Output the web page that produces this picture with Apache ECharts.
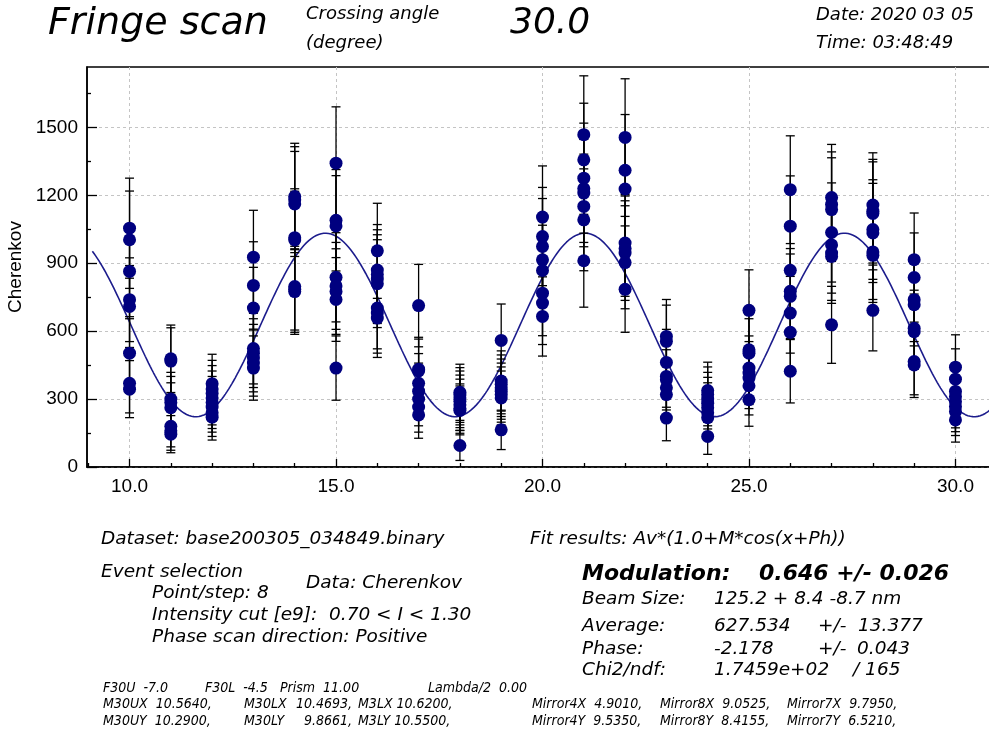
<!DOCTYPE html>
<html><head><meta charset="utf-8">
<script src="https://cdn.jsdelivr.net/npm/echarts@6/dist/echarts.min.js"></script>
<style>html,body{margin:0;padding:0;background:#fff}#c{width:989px;height:735px}</style>
</head><body><div id="c"></div>
<script>
// ---- data ----
const scanPositions = [10,11,12,13,14,15,16,17,18,19,20,21,22,23,24,25,26,27,28,29,30];
const pointsPerStep = 8;
const cherenkovValues = [
  1055,1004,864,739,709,503,370,344,
  478,468,300,285,262,180,160,145,
  368,345,325,305,285,265,240,220,
  927,802,702,523,503,481,459,437,
  1195,1181,1162,1013,1003,797,785,775,
  1342,1090,1065,838,800,775,740,437,
  955,870,850,830,810,702,680,658,
  713,432,425,370,335,300,265,230,
  330,318,305,290,275,258,250,95,
  559,380,365,350,335,320,305,164,
  1104,1018,974,915,868,768,724,665,
  1468,1357,1276,1230,1210,1151,1092,911,
  1456,1311,1228,989,965,945,903,785,
  577,555,462,400,385,350,320,216,
  338,320,300,282,262,240,218,135,
  692,518,503,437,415,393,359,297,
  1225,1064,869,776,754,680,595,423,
  1190,1160,1137,1036,981,945,930,628,
  1157,1130,1120,1049,1034,950,935,692,
  916,837,739,717,613,598,466,451,
  441,388,334,311,289,267,245,208
];
const cherenkovErrors = [
  221,215,200,185,181,152,131,126,
  149,147,118,115,110,91,86,82,
  130,126,123,119,115,111,105,101,
  207,193,180,156,152,149,146,142,
  235,234,232,216,215,192,190,189,
  249,224,222,197,192,189,185,142,
  210,201,198,196,194,180,177,174,
  182,141,140,131,124,118,111,103,
  124,121,119,116,113,109,108,66,
  161,133,130,127,124,122,119,87,
  226,217,212,206,200,188,183,175,
  260,250,243,238,237,231,225,205,
  259,246,238,214,211,209,204,190,
  163,160,146,136,133,127,122,100,
  125,122,118,114,110,105,100,79,
  179,155,152,142,139,135,129,117,
  238,222,200,189,187,177,166,140,
  235,232,229,219,213,209,207,170,
  231,229,228,220,219,210,208,179,
  206,197,185,182,168,166,147,144,
  143,134,124,120,116,111,106,98
];
// fit results printed on the chart: Av*(1.0+M*cos(x+Ph))
const fitAverage = 627.534;
const fitModulation = 0.646;
const fitPhase = -2.178;
const fitRange = [9.1, 30.9];

const xTickValues = [10, 15, 20, 25, 30];
const xMinorTickValues = [9,11,12,13,14,16,17,18,19,21,22,23,24,26,27,28,29,31];
const yTickValues = [0, 300, 600, 900, 1200, 1500];
const yMinorTickValues = [150, 450, 750, 1050, 1350, 1650];
const xRange = [8.97, 31.03];
const yRange = [0, 1767];

// ---- build ----
const points = cherenkovValues.map((v, i) => [scanPositions[Math.floor(i / pointsPerStep)], v, cherenkovErrors[i]]);
const fitCurve = [];
for (let k = 0; ; k++) {
  const x = fitRange[0] + k * 0.02;
  if (x > fitRange[1] + 1e-9) break;
  fitCurve.push([x, fitAverage * (1 + fitModulation * Math.cos(x + fitPhase))]);
}

const FONT = "'DejaVu Sans', sans-serif";
const CFONT = "'DejaVu Sans Condensed', 'DejaVu Sans', sans-serif";
function txt(text, x, y, size, extra) {
  return {
    type: 'text', x: x, y: y, silent: true,
    style: Object.assign({
      text: text, fill: '#000',
      font: 'italic ' + size + 'px ' + FONT,
      textAlign: 'left', textVerticalAlign: 'middle'
    }, extra || {})
  };
}
function btxt(text, x, y, size) {
  return txt(text, x, y, size, { font: 'italic bold ' + size + 'px ' + FONT });
}
function stxt(text, x, y, align) {
  return txt(text, x, y, 14, { font: 'italic 14px ' + CFONT, textAlign: align || 'left' });
}

const graphics = [
  txt('Fringe scan', 48, 24, 38),
  txt('Crossing angle', 306, 14, 18),
  txt('(degree)', 306, 43, 18),
  txt('30.0', 510, 24, 36),
  txt('Date: 2020 03 05', 816, 15, 18),
  txt('Time: 03:48:49', 816, 43, 18),

  txt('Dataset: base200305_034849.binary', 101, 539, 18.5),
  txt('Fit results: Av*(1.0+M*cos(x+Ph))', 530, 539, 18.5),
  txt('Event selection', 101, 572, 18.5),
  txt('Data: Cherenkov', 306, 583, 18.5),
  txt('Point/step: 8', 152, 593, 18.5),
  txt('Intensity cut [e9]:  0.70 < I < 1.30', 152, 615, 18.5),
  txt('Phase scan direction: Positive', 152, 637, 18.5),

  btxt('Modulation:', 582, 574, 22),
  btxt('0.646 +/- 0.026', 759, 574, 22),
  txt('Beam Size:', 582, 599, 18.5),
  txt('125.2 + 8.4 -8.7 nm', 714, 599, 18.5),
  txt('Average:', 582, 626, 18.5),
  txt('627.534', 714, 626, 18.5),
  txt('+/-', 818, 626, 18.5),
  txt('13.377', 858, 626, 18.5),
  txt('Phase:', 582, 649, 18.5),
  txt('-2.178', 714, 649, 18.5),
  txt('+/-', 818, 649, 18.5),
  txt('0.043', 857, 649, 18.5),
  txt('Chi2/ndf:', 582, 670, 18.5),
  txt('1.7459e+02', 714, 670, 18.5),
  txt('/ 165', 853, 670, 18.5),

  stxt('F30U  -7.0', 103, 688),
  stxt('F30L  -4.5', 205, 688),
  stxt('Prism  11.00', 280, 688),
  stxt('Lambda/2  0.00', 428, 688),
  stxt('M30UX  10.5640,', 103, 704),
  stxt('M30LX', 244, 704),
  stxt('10.4693,', 296, 704),
  stxt('M3LX 10.6200,', 358, 704),
  stxt('Mirror4X  4.9010,', 532, 704),
  stxt('Mirror8X  9.0525,', 660, 704),
  stxt('Mirror7X  9.7950,', 787, 704),
  stxt('M30UY  10.2900,', 103, 721),
  stxt('M30LY', 244, 721),
  stxt('9.8661,', 352, 721, 'right'),
  stxt('M3LY 10.5500,', 358, 721),
  stxt('Mirror4Y  9.5350,', 532, 721),
  stxt('Mirror8Y  8.4155,', 660, 721),
  stxt('Mirror7Y  6.5210,', 787, 721)
];

const labelFont = "'Liberation Sans', Arial, sans-serif";
const chart = echarts.init(document.getElementById('c'), null, { renderer: 'canvas' });
chart.setOption({
  animation: false,
  backgroundColor: '#fff',
  grid: {
    left: 87, top: 67, right: -9, bottom: 268, containLabel: false, outerBoundsMode: 'none',
    show: true, borderColor: '#000', borderWidth: 1.5, backgroundColor: 'transparent'
  },
  xAxis: [
    {
      type: 'value', min: xRange[0], max: xRange[1], position: 'bottom',
      axisLine: { show: true, onZero: false, lineStyle: { color: '#000', width: 1.5 } },
      axisTick: { show: true, inside: true, length: 8, customValues: xTickValues, lineStyle: { color: '#000', width: 1.3 } },
      axisLabel: { show: true, customValues: xTickValues, formatter: v => Number(v).toFixed(1), fontSize: 19, fontFamily: labelFont, color: '#000', margin: 10 },
      splitLine: { show: true, lineStyle: { color: '#c4c4c4', width: 1, type: [3, 3] } }
    },
    {
      type: 'value', min: xRange[0], max: xRange[1], position: 'bottom',
      axisLine: { show: false },
      axisTick: { show: true, inside: true, length: 4, customValues: xMinorTickValues, lineStyle: { color: '#000', width: 1.3 } },
      axisLabel: { show: false }, splitLine: { show: false }
    }
  ],
  yAxis: [
    {
      type: 'value', min: yRange[0], max: yRange[1], position: 'left',
      name: 'Cherenkov', nameLocation: 'middle', nameGap: 58,
      nameTextStyle: { fontSize: 19, fontFamily: labelFont, color: '#000' },
      axisLine: { show: true, onZero: false, lineStyle: { color: '#000', width: 1.5 } },
      axisTick: { show: true, inside: true, length: 10, customValues: yTickValues, lineStyle: { color: '#000', width: 1.3 } },
      axisLabel: { show: true, customValues: yTickValues, formatter: v => String(v), fontSize: 19, fontFamily: labelFont, color: '#000', margin: 9 },
      splitLine: { show: true, lineStyle: { color: '#c4c4c4', width: 1, type: [3, 3] } }
    },
    {
      type: 'value', min: yRange[0], max: yRange[1], position: 'left',
      axisLine: { show: false },
      axisTick: { show: true, inside: true, length: 4, customValues: yMinorTickValues, lineStyle: { color: '#000', width: 1.3 } },
      axisLabel: { show: false }, splitLine: { show: false }
    }
  ],
  series: [
    {
      type: 'line', data: fitCurve, xAxisIndex: 0, yAxisIndex: 0,
      showSymbol: false, symbol: 'none', silent: true, z: 2,
      lineStyle: { color: '#1c1c8c', width: 1.6 }
    },
    {
      type: 'custom', data: points, xAxisIndex: 0, yAxisIndex: 0, z: 3, silent: true,
      encode: { x: 0, y: 1 },
      renderItem: function (params, api) {
        const x = api.value(0), y = api.value(1), e = api.value(2);
        const p1 = api.coord([x, y + e]);
        const p2 = api.coord([x, y - e]);
        const hw = 4.5;
        const st = { stroke: '#000', lineWidth: 1.3 };
        return {
          type: 'group', children: [
            { type: 'line', shape: { x1: p1[0], y1: p1[1], x2: p2[0], y2: p2[1] }, style: st },
            { type: 'line', shape: { x1: p1[0] - hw, y1: p1[1], x2: p1[0] + hw, y2: p1[1] }, style: st },
            { type: 'line', shape: { x1: p2[0] - hw, y1: p2[1], x2: p2[0] + hw, y2: p2[1] }, style: st }
          ]
        };
      }
    },
    {
      type: 'scatter', data: points.map(p => [p[0], p[1]]), xAxisIndex: 0, yAxisIndex: 0, z: 4,
      symbol: 'circle', symbolSize: 13, silent: true,
      itemStyle: { color: '#00007f', opacity: 1 }
    }
  ],
  graphic: graphics
});
</script>
</body></html>
